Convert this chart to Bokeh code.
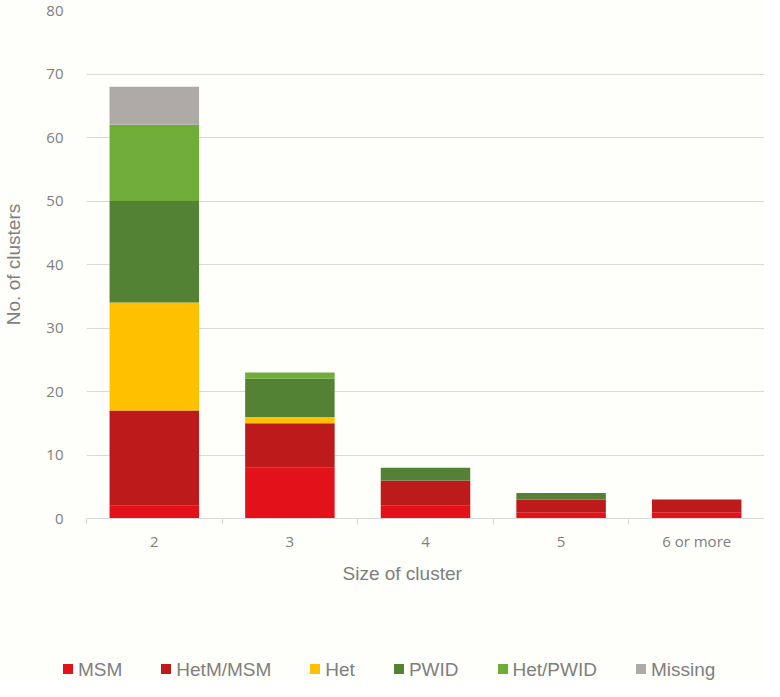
from bokeh.plotting import figure
from bokeh.layouts import column
from bokeh.models import (ColumnDataSource, FixedTicker, Title, Range1d, Div)
from bokeh.embed import file_html
from bokeh.resources import INLINE

# ---- data ----
categories = ["2", "3", "4", "5", "6 or more"]
series = ["MSM", "HetM/MSM", "Het", "PWID", "Het/PWID", "Missing"]
msm = [2, 8, 2, 1, 1]
hetm_msm = [15, 7, 4, 2, 2]
het = [17, 1, 0, 0, 0]
pwid = [16, 6, 2, 1, 0]
het_pwid = [12, 1, 0, 0, 0]
missing = [6, 0, 0, 0, 0]
colors = ["#e3111a", "#bd1a1b", "#ffc000", "#548235", "#70ad38", "#aeaba7"]
y_ticks = [0, 10, 20, 30, 40, 50, 60, 70, 80]

values = [msm, hetm_msm, het, pwid, het_pwid, missing]
x_centers = [i + 0.5 for i in range(len(categories))]
x_bounds = [i for i in range(len(categories) + 1)]

data = {"x": x_centers}
for name, vals in zip(series, values):
    data[name] = vals
source = ColumnDataSource(data)

BG = "#fefefa"
GREY = "#7f7f7f"

p = figure(width=764, height=600, output_backend="svg", toolbar_location=None,
           x_range=Range1d(0, len(categories)), y_range=Range1d(0, 80),
           background_fill_color=BG, border_fill_color=BG,
           min_border_left=86, min_border_right=0, min_border_top=10,
           min_border_bottom=82)
p.outline_line_color = None

renderers = p.vbar_stack(series, x="x", width=0.66, color=colors,
                         line_color=None, source=source)

# grid
p.xgrid.grid_line_color = None
p.ygrid.grid_line_color = "#d9d9d9"
p.ygrid.grid_line_width = 1

# y axis
p.yaxis.ticker = FixedTicker(ticks=y_ticks)
p.yaxis.axis_line_color = None
p.yaxis.major_tick_line_color = None
p.yaxis.minor_tick_line_color = None
p.yaxis.major_label_text_font = "Open Sans"
p.yaxis.major_label_text_font_size = "15px"
p.yaxis.major_label_text_color = GREY
p.yaxis.major_label_standoff = 17
p.yaxis.axis_label = "No. of clusters"
p.yaxis.axis_label_text_font = "Liberation Sans"
p.yaxis.axis_label_text_font_size = "19px"
p.yaxis.axis_label_text_font_style = "normal"
p.yaxis.axis_label_text_color = GREY
p.yaxis.axis_label_standoff = 19

# x axis
p.xaxis.ticker = FixedTicker(ticks=x_centers, minor_ticks=x_bounds)
p.xaxis.major_label_overrides = {x: c for x, c in zip(x_centers, categories)}
p.xaxis.axis_line_color = "#d9d9d9"
p.xaxis.major_tick_line_color = None
p.xaxis.major_tick_out = 0
p.xaxis.major_tick_in = 0
p.xaxis.minor_tick_line_color = "#d9d9d9"
p.xaxis.minor_tick_out = 6
p.xaxis.minor_tick_in = 0
p.xaxis.major_label_text_font = "Open Sans"
p.xaxis.major_label_text_font_size = "15px"
p.xaxis.major_label_text_color = GREY
p.xaxis.major_label_standoff = 6

xt = Title(text="Size of cluster", align="left", offset=256,
           text_font="Liberation Sans", text_font_size="19px",
           text_font_style="normal", text_color=GREY, standoff=14)
p.add_layout(xt, "below")

# ---- legend strip, built from the series names and colours ----
entries = "".join(
    '<span style="display:inline-flex;align-items:center;margin-right:39px;">'
    f'<span style="display:inline-block;width:10px;height:10px;'
    f'background:{c};margin-right:5px;position:relative;top:-1px;"></span>'
    f'{n}</span>'
    for n, c in zip(series, colors))
legend_html = (
    '<div style="display:flex;flex-wrap:nowrap;white-space:nowrap;'
    f'padding-left:63px;padding-top:59px;font-family:\'Liberation Sans\';'
    f'font-size:19px;line-height:22px;color:{GREY};">' + entries + '</div>')
legend_div = Div(text=legend_html, width=764, height=81, margin=0,
                 styles={"background-color": BG})

open("out.html", "w").write(
    file_html(column(p, legend_div, spacing=0), INLINE))
